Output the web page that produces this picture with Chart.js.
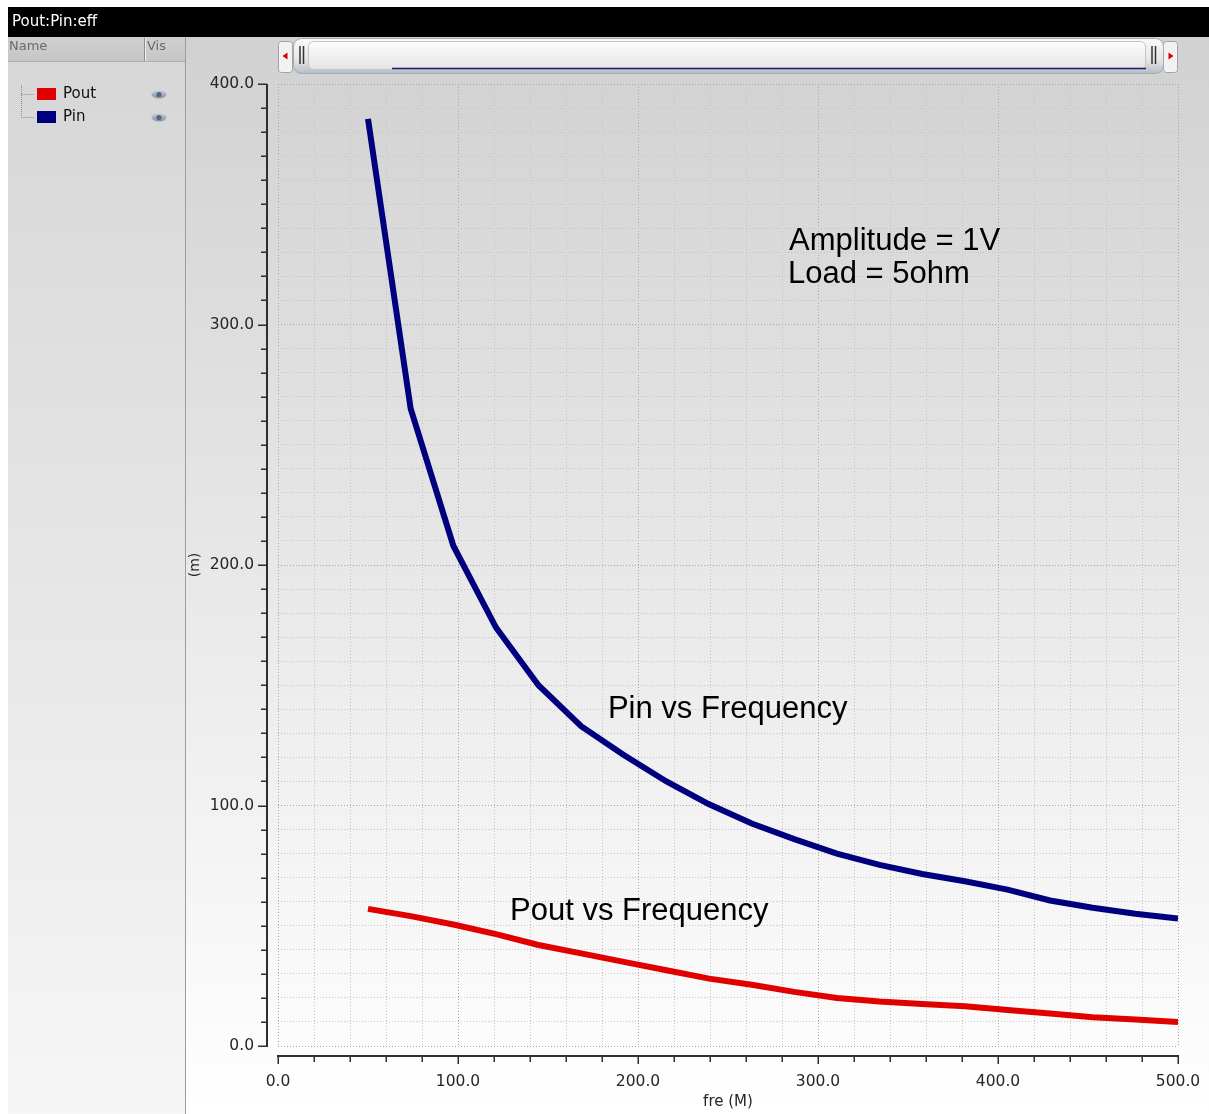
<!DOCTYPE html>
<html>
<head>
<meta charset="utf-8">
<script src="https://cdn.jsdelivr.net/npm/chart.js@4.4.1/dist/chart.umd.min.js"></script>
<style>
  html, body { margin: 0; padding: 0; background: #fff; overflow: hidden; }
  canvas { display: block; }
</style>
</head>
<body>
<canvas id="c" width="1209" height="1114"></canvas>
<script>
// ---- data -------------------------------------------------------------
const windowTitle = 'Pout:Pin:eff';
const freqM = [50.0, 73.7, 97.4, 121.1, 144.7, 168.4, 192.1, 215.8, 239.5, 263.2,
               286.8, 310.5, 334.2, 357.9, 381.6, 405.3, 428.9, 452.6, 476.3, 500.0];
const poutM = [57.0, 54.0, 50.5, 46.5, 42.0, 38.5, 35.0, 31.5, 28.0, 25.5,
               22.5, 20.0, 18.5, 17.5, 16.5, 15.0, 13.5, 12.0, 11.0, 10.0];
const pinM  = [385.5, 265.0, 208.0, 174.0, 150.0, 133.0, 121.0, 110.0, 100.5, 92.5,
               86.0, 80.0, 75.3, 71.5, 68.5, 65.0, 60.5, 57.5, 55.0, 53.0];
const seriesNames  = ['Pout', 'Pin'];
const seriesColors = ['#e00000', '#00007f'];
const xTitle = 'fre (M)';
const yTitle = '(m)';
const xLimits = [0, 500];
const yLimits = [0, 400];
const xMinorStep = 20;
const yMinorStep = 10;
const majorStep = 100;
const noteTexts = ['Amplitude = 1V', 'Load = 5ohm', 'Pin vs Frequency', 'Pout vs Frequency'];
const noteX = [283.9, 283.3, 183.3, 128.9];
const noteY = [334.7, 320.9, 140.1, 56.1];

const TICK_FONT = 'DejaVu Sans';
const NOTE_FONT = '"Liberation Sans", Arial, sans-serif';

const toPoints = (xs, ys) => xs.map((x, i) => ({ x: x, y: ys[i] }));

// ---- window chrome: title bar, signal browser, plot background ---------
const chromePlugin = {
  id: 'chrome',
  beforeDraw(chart) {
    const ctx = chart.ctx;
    const W = chart.width, H = chart.height;
    ctx.save();
    ctx.fillStyle = '#ffffff';
    ctx.fillRect(0, 0, W, H);

    // title bar
    ctx.fillStyle = '#000000';
    ctx.fillRect(8, 7, W - 8, 30);
    ctx.fillStyle = '#ffffff';
    ctx.font = '15px "' + TICK_FONT + '"';
    ctx.textBaseline = 'middle';
    ctx.textAlign = 'left';
    ctx.fillText(windowTitle, 12, 22.5);

    // plot pane background
    let g = ctx.createLinearGradient(0, 37, 0, H);
    g.addColorStop(0, '#d1d1d1');
    g.addColorStop(1, '#ffffff');
    ctx.fillStyle = g;
    ctx.fillRect(186, 37, W - 186, H - 37);

    // signal browser panel
    g = ctx.createLinearGradient(0, 37, 0, H);
    g.addColorStop(0, '#d6d6d6');
    g.addColorStop(1, '#f6f6f6');
    ctx.fillStyle = g;
    ctx.fillRect(8, 37, 177, H - 37);
    ctx.strokeStyle = '#9c9c9c';
    ctx.lineWidth = 1;
    ctx.beginPath();
    ctx.moveTo(185.5, 37); ctx.lineTo(185.5, H);
    ctx.stroke();

    // header row
    g = ctx.createLinearGradient(0, 37, 0, 62);
    g.addColorStop(0, '#cfcfcf');
    g.addColorStop(1, '#c6c6c6');
    ctx.fillStyle = g;
    ctx.fillRect(8, 37, 177, 25);
    ctx.strokeStyle = '#b0b0b0';
    ctx.beginPath();
    ctx.moveTo(8, 61.5); ctx.lineTo(185, 61.5);
    ctx.stroke();
    ctx.strokeStyle = '#8c8c8c';
    ctx.beginPath();
    ctx.moveTo(144.5, 38); ctx.lineTo(144.5, 61);
    ctx.stroke();
    ctx.strokeStyle = '#f0f0f0';
    ctx.beginPath();
    ctx.moveTo(145.5, 38); ctx.lineTo(145.5, 61);
    ctx.stroke();
    ctx.fillStyle = '#6a6a6a';
    ctx.font = '13px "' + TICK_FONT + '"';
    ctx.fillText('Name', 9, 47);
    ctx.fillText('Vis', 147, 47);

    // tree connectors
    ctx.strokeStyle = '#8a8a8a';
    ctx.setLineDash([1, 1]);
    ctx.beginPath();
    ctx.moveTo(21.5, 85); ctx.lineTo(21.5, 117.5);
    ctx.moveTo(21.5, 94.5); ctx.lineTo(34, 94.5);
    ctx.moveTo(21.5, 117.5); ctx.lineTo(34, 117.5);
    ctx.stroke();
    ctx.setLineDash([]);

    // legend entries, one per dataset
    chart.data.datasets.forEach((ds, i) => {
      const y = 94 + 23 * i;
      ctx.fillStyle = ds.borderColor;
      ctx.fillRect(37, y - 6, 19, 12);
      ctx.fillStyle = '#111111';
      ctx.font = '15px "' + TICK_FONT + '"';
      ctx.textBaseline = 'middle';
      ctx.fillText(ds.label, 63, y + 0.5);
      // visibility eye
      const eg = ctx.createLinearGradient(0, y - 4, 0, y + 4);
      eg.addColorStop(0, '#c8d0dc');
      eg.addColorStop(1, '#8894a8');
      ctx.fillStyle = eg;
      ctx.beginPath();
      ctx.ellipse(159, y + 0.5, 7.5, 4, 0, 0, Math.PI * 2);
      ctx.fill();
      ctx.fillStyle = '#556580';
      ctx.beginPath();
      ctx.arc(159, y + 0.5, 2.6, 0, Math.PI * 2);
      ctx.fill();
    });
    ctx.restore();
  },

  afterDraw(chart) {
    const ctx = chart.ctx;
    const xs = chart.scales.x, ys = chart.scales.y;
    const axisX = xs.left - 11;
    const axisY = ys.bottom + 10;
    ctx.save();

    // y axis spine and ticks
    ctx.strokeStyle = '#2e2e2e';
    ctx.lineWidth = 2;
    ctx.beginPath();
    ctx.moveTo(axisX, ys.getPixelForValue(yLimits[1]));
    ctx.lineTo(axisX, ys.getPixelForValue(yLimits[0]) + 1);
    ctx.stroke();
    ctx.lineWidth = 1.5;
    ctx.beginPath();
    ys.ticks.forEach(t => {
      const py = Math.round(ys.getPixelForValue(t.value)) + 0.25;
      const len = (t.value % majorStep === 0) ? 9 : 6;
      ctx.moveTo(axisX - len, py);
      ctx.lineTo(axisX, py);
    });
    ctx.stroke();

    // x axis spine and ticks
    ctx.lineWidth = 2;
    ctx.beginPath();
    ctx.moveTo(xs.getPixelForValue(xLimits[0]) - 1, axisY);
    ctx.lineTo(xs.getPixelForValue(xLimits[1]) + 1, axisY);
    ctx.stroke();
    ctx.lineWidth = 1.5;
    ctx.beginPath();
    xs.ticks.forEach(t => {
      const px = Math.round(xs.getPixelForValue(t.value)) + 0.25;
      const len = (t.value % majorStep === 0) ? 8 : 6;
      ctx.moveTo(px, axisY);
      ctx.lineTo(px, axisY + len);
    });
    ctx.stroke();

    // text notes placed in data space
    ctx.fillStyle = '#000000';
    ctx.font = '31px ' + NOTE_FONT;
    ctx.textAlign = 'left';
    ctx.textBaseline = 'middle';
    noteTexts.forEach((t, i) => {
      ctx.fillText(t, xs.getPixelForValue(noteX[i]), ys.getPixelForValue(noteY[i]));
    });

    // zoom scroller above the plot
    const sl = xs.left, sr = xs.right;
    const rr = (x, y, w, h, r) => { ctx.beginPath(); ctx.roundRect(x, y, w, h, r); };
    // end buttons
    [[sl + 0.5, -1], [sr - 14.5, 1]].forEach(([bx, dir]) => {
      rr(bx, 41.5, 14, 31, 3);
      ctx.fillStyle = '#f2f2f2';
      ctx.fill();
      ctx.strokeStyle = '#a4a4a4';
      ctx.lineWidth = 1;
      ctx.stroke();
      const cx = bx + 7;
      ctx.fillStyle = '#d40000';
      ctx.beginPath();
      ctx.moveTo(cx + 3 * dir, 56);
      ctx.lineTo(cx - 2 * dir, 52.5);
      ctx.lineTo(cx - 2 * dir, 59.5);
      ctx.closePath();
      ctx.fill();
    });
    // thumb
    let g = ctx.createLinearGradient(0, 38, 0, 74);
    g.addColorStop(0, '#fafafa');
    g.addColorStop(0.6, '#e6e6e6');
    g.addColorStop(1, '#b4bcc6');
    rr(sl + 15.5, 38.5, sr - sl - 30, 35, 8);
    ctx.fillStyle = g;
    ctx.fill();
    ctx.strokeStyle = '#a2aab4';
    ctx.stroke();
    // inner track
    g = ctx.createLinearGradient(0, 41, 0, 70);
    g.addColorStop(0, '#fdfdfd');
    g.addColorStop(1, '#e4e4e4');
    rr(sl + 30.5, 41.5, sr - sl - 63, 28, 5);
    ctx.fillStyle = g;
    ctx.fill();
    ctx.strokeStyle = '#c4c4c4';
    ctx.stroke();
    // grips
    ctx.strokeStyle = '#333333';
    ctx.lineWidth = 1.5;
    ctx.beginPath();
    [sl + 22, sl + 25.5, sr - 26, sr - 22.5].forEach(gx => {
      ctx.moveTo(gx, 46); ctx.lineTo(gx, 64);
    });
    ctx.stroke();
    // visible-range marker
    ctx.strokeStyle = '#1c1c6e';
    ctx.lineWidth = 1.5;
    ctx.beginPath();
    ctx.moveTo(xs.getPixelForValue(freqM[0]) + 24, 68.5);
    ctx.lineTo(sr - 32, 68.5);
    ctx.stroke();

    ctx.restore();
  }
};

// ---- chart ------------------------------------------------------------
const gridColor = (c) => (c.tick && c.tick.value % majorStep === 0) ? '#a6a6a6' : '#c4c4c4';

new Chart(document.getElementById('c'), {
  type: 'line',
  data: {
    datasets: [
      {
        label: seriesNames[0],
        data: toPoints(freqM, poutM),
        borderColor: seriesColors[0],
        backgroundColor: seriesColors[0],
        borderWidth: 6,
        pointRadius: 0,
        tension: 0,
        borderCapStyle: 'butt',
        borderJoinStyle: 'miter'
      },
      {
        label: seriesNames[1],
        data: toPoints(freqM, pinM),
        borderColor: seriesColors[1],
        backgroundColor: seriesColors[1],
        borderWidth: 6,
        pointRadius: 0,
        tension: 0,
        borderCapStyle: 'butt',
        borderJoinStyle: 'miter'
      }
    ]
  },
  options: {
    responsive: false,
    animation: false,
    devicePixelRatio: 1,
    layout: { padding: { left: 186, right: 31, top: 84, bottom: 0 } },
    plugins: { legend: { display: false }, tooltip: { enabled: false }, title: { display: false } },
    scales: {
      x: {
        type: 'linear',
        min: xLimits[0],
        max: xLimits[1],
        afterFit: (s) => { s.height = 68; s.paddingLeft = 0; s.paddingRight = 0; },
        border: { display: false, dash: [1, 2] },
        grid: { color: gridColor, lineWidth: 1, drawTicks: false },
        ticks: {
          stepSize: xMinorStep,
          maxTicksLimit: 100,
          autoSkip: false,
          maxRotation: 0,
          padding: 27,
          color: '#262626',
          font: { family: TICK_FONT, size: 15.5 },
          callback: (v) => (v % majorStep === 0) ? Number(v).toFixed(1) : ''
        },
        title: {
          display: true,
          text: xTitle,
          color: '#262626',
          font: { family: TICK_FONT, size: 15 },
          padding: { top: 0, bottom: 3 }
        }
      },
      y: {
        type: 'linear',
        min: yLimits[0],
        max: yLimits[1],
        afterFit: (s) => { s.width = 92; s.paddingTop = 0; s.paddingBottom = 0; },
        border: { display: false, dash: [1, 2] },
        grid: { color: gridColor, lineWidth: 1, drawTicks: false },
        ticks: {
          stepSize: yMinorStep,
          maxTicksLimit: 100,
          autoSkip: false,
          padding: 24,
          color: '#262626',
          font: { family: TICK_FONT, size: 15.5 },
          callback: (v) => (v % majorStep === 0) ? Number(v).toFixed(1) : ''
        },
        title: {
          display: true,
          text: yTitle,
          color: '#262626',
          font: { family: TICK_FONT, size: 14 },
          padding: { top: 1, bottom: 0 }
        }
      }
    }
  },
  plugins: [chromePlugin]
});
</script>
</body>
</html>
